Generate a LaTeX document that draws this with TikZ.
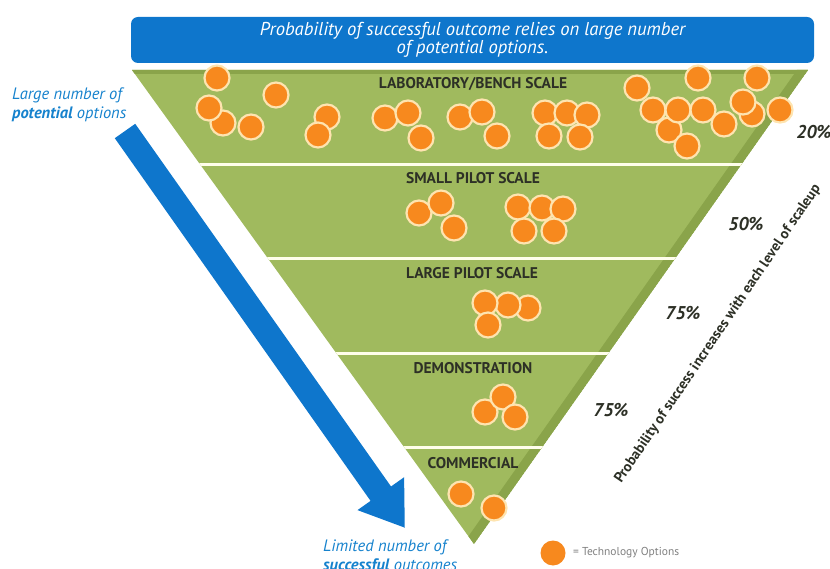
\documentclass[tikz,border=0pt]{standalone}
\usepackage{fontspec}
\setmainfont{PT Sans}
\usetikzlibrary{arrows.meta}

\definecolor{bannerblue}{RGB}{14,118,204}
\definecolor{textblue}{RGB}{22,130,205}
\definecolor{funnelgreen}{RGB}{160,186,94}
\definecolor{funneldark}{RGB}{138,164,74}
\definecolor{techorange}{RGB}{247,137,30}
\definecolor{techrim}{RGB}{254,228,176}
\definecolor{labelgray}{RGB}{45,48,38}

\tikzset{
  tech/.style={circle, fill=techorange, draw=techrim, line width=2.2pt, minimum size=25pt, inner sep=0pt},
  stage/.style={font=\fontsize{15.5}{17}\selectfont\bfseries, text=labelgray, inner sep=0pt},
  pct/.style={font=\fontsize{18.5}{20}\selectfont\bfseries\itshape, text=labelgray, inner sep=0pt},
  side/.style={font=\fontsize{16.5}{18.5}\selectfont\itshape, text=textblue, align=left, inner sep=0pt},
}

\begin{document}
\begin{tikzpicture}[x=1pt,y=-1pt]
	\useasboundingbox (0,0) rectangle (830,569);
	\node (banner) at (472.5,40) [fill=bannerblue, rounded corners=7pt, minimum width=683pt, minimum height=46pt, text=white, align=center, font=\fontsize{18.6}{18.5}\selectfont\itshape] {Probability of successful outcome relies on large number\\of potential options.};

	\coordinate (tl) at (132,70);
	\coordinate (tr) at (808,70);
	\coordinate (apex) at (474,544);
	\begin{scope}
		\clip (tl) -- (tr) -- (apex) -- cycle;
		\fill[funnelgreen] (tl) -- (tr) -- (apex) -- cycle;
		\draw[funneldark, line width=8pt] (tl) -- (tr);
		\draw[funneldark, line width=18pt] (tr) -- (apex);
		\foreach \y in {165,258.5,353.5,447}
			\draw[white!92!yellow, line width=3pt] (100,\y) -- (830,\y);
	\end{scope}

	\node (lab)   at (473,84)  [stage] {LABORATORY/BENCH SCALE};
	\node (small) at (473,178) [stage] {SMALL PILOT SCALE};
	\node (large) at (472,273) [stage] {LARGE PILOT SCALE};
	\node (demo)  at (473,368) [stage] {DEMONSTRATION};
	\node (comm)  at (473,463) [stage] {COMMERCIAL};

	\foreach \x/\y [count=\i] in {
		217/78, 223/123, 209/108, 251/127, 276/95,
		327/117, 318/135,
		385/118, 408/113, 421/138,
		460/117, 482/112, 497/136,
		545/113, 567/113, 587/115, 549/136, 580/137,
		637/88, 698/78, 757/78, 752/114, 743/102, 669/130, 653/110, 678/110, 703/110, 724/124, 780/110, 687/146,
		419/213, 441/203, 454/228,
		518/207, 542/208, 563/209, 524/231, 554/231,
		528/308, 508/305, 485/303, 488/325,
		485/412, 503/397, 515/417,
		461/494, 494/508}
		\node[tech] (t\i) at (\x,\y) {};

	\coordinate (tail) at (125,131);
	\coordinate (tip) at (405,528);
	\draw[bannerblue, line width=25pt, -{Triangle[length=42pt, width=54pt]}] (tail) -- (tip);

	\node (many) at (12,105) [side, anchor=west] {Large number of\\\textbf{potential} options};
	\node (few) at (323,557) [side, anchor=west] {Limited number of\\\textbf{successful} outcomes};

	\node (p1) at (814,132) [pct] {20\%};
	\node (p2) at (746,224) [pct] {50\%};
	\node (p3) at (683,313) [pct] {75\%};
	\node (p4) at (611,410) [pct] {75\%};
	\node (scaleup) at (718,334) [rotate=56, font=\fontsize{14.5}{16}\selectfont\bfseries, text=labelgray, inner sep=0pt] {Probability of success increases with each level of scaleup};

	\node[tech, draw=none] (key) at (553,553) {};
	\node (keytext) at (573,553) [anchor=west, font=\fontsize{11.5}{13}\selectfont, text=gray, inner sep=0pt] {= Technology Options};
\end{tikzpicture}
\end{document}
